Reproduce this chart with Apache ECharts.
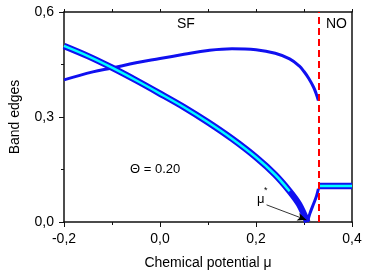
<!DOCTYPE html>
<html>
<head>
<meta charset="utf-8">
<script src="https://cdn.jsdelivr.net/npm/echarts@6/dist/echarts.min.js"></script>
<style>html,body{margin:0;padding:0;background:#fff}#c{width:368px;height:276px}</style>
</head>
<body>
<div id="c"></div>
<script>
// Data (chemical potential mu, band edge)
const bandMu   = [-0.20, -0.15, -0.10, -0.05, 0.00, 0.05, 0.10, 0.15, 0.20, 0.24, 0.27, 0.29, 0.307];
const bandVal  = [0.503, 0.474, 0.441, 0.405, 0.367, 0.328, 0.285, 0.238, 0.185, 0.135, 0.088, 0.050, 0.000];
const riseMu   = [0.307, 0.313, 0.320, 0.326, 0.330];
const riseVal  = [0.000, 0.027, 0.052, 0.074, 0.095];
const upperMu  = [-0.20, -0.14, -0.10, -0.05, 0.00, 0.05, 0.10, 0.15, 0.20, 0.24, 0.27, 0.29, 0.30, 0.31, 0.32, 0.325, 0.33];
const upperVal = [0.406, 0.429, 0.440, 0.455, 0.467, 0.479, 0.490, 0.495, 0.492, 0.482, 0.466, 0.446, 0.430, 0.410, 0.385, 0.368, 0.347];
const noMu     = [0.33, 0.40];
const noVal    = [0.103, 0.103];
const muCritical = 0.33;
const muStar = 0.307;
const xTicks = [-0.2, 0.0, 0.2, 0.4];
const yTicks = [0.0, 0.3, 0.6];

const zip = (a, b) => a.map((v, i) => [v, b[i]]);
const fmt = v => v.toFixed(1).replace('.', ',');
const BLUE = '#1010f0', CYAN = '#00ffff';
const font = 'Liberation Sans, Arial, sans-serif';
const AX = '#111';

const chart = echarts.init(document.getElementById('c'), null, {renderer: 'canvas'});
chart.setOption({
  animation: false,
  backgroundColor: '#fff',
  grid: {left: 61, top: 12, right: 16, bottom: 54},
  xAxis: [{
    type: 'value', min: xTicks[0], max: xTicks[xTicks.length - 1], interval: 0.2,
    name: 'Chemical potential \u03bc', nameLocation: 'middle', nameGap: 34,
    nameTextStyle: {fontFamily: font, fontSize: 14, color: '#000'},
    axisLine: {onZero: false, lineStyle: {color: AX, width: 1.5}},
    axisTick: {length: 5, lineStyle: {color: AX}},
    minorTick: {show: true, splitNumber: 2, length: 3, lineStyle: {color: AX}},
    axisLabel: {formatter: fmt, fontFamily: font, fontSize: 14, color: '#000', margin: 10},
    splitLine: {show: false}
  }, {
    type: 'value', position: 'top', min: -0.2, max: 0.4, interval: 0.1,
    axisLine: {show: true, onZero: false, lineStyle: {color: AX, width: 1.5}},
    axisTick: {show: true, length: 3, lineStyle: {color: AX}},
    axisLabel: {show: false}, splitLine: {show: false}
  }],
  yAxis: [{
    type: 'value', min: yTicks[0], max: yTicks[yTicks.length - 1], interval: 0.3,
    name: 'Band edges', nameLocation: 'middle', nameGap: 42,
    nameTextStyle: {fontFamily: font, fontSize: 14, color: '#000'},
    axisLine: {show: true, onZero: false, lineStyle: {color: AX, width: 1.5}},
    axisTick: {show: true, length: 5, lineStyle: {color: AX}},
    minorTick: {show: true, splitNumber: 2, length: 3, lineStyle: {color: AX}},
    axisLabel: {formatter: fmt, fontFamily: font, fontSize: 14, color: '#000', margin: 10},
    splitLine: {show: false}
  }, {
    type: 'value', position: 'right', min: 0, max: 0.6, interval: 0.15,
    axisLine: {show: true, onZero: false, lineStyle: {color: AX, width: 1.5}},
    axisTick: {show: false},
    axisLabel: {show: false}, splitLine: {show: false}
  }],
  series: [
    {type: 'line', data: zip(upperMu, upperVal), smooth: 0.4, symbol: 'none',
     lineStyle: {color: BLUE, width: 3}},
    {type: 'line', data: zip(bandMu, bandVal), smooth: 0.3, symbol: 'none',
     lineStyle: {color: BLUE, width: 6.5}},
    {type: 'line', data: zip(bandMu.slice(0, 11), bandVal.slice(0, 11)), smooth: 0.3, symbol: 'none',
     lineStyle: {color: CYAN, width: 2.5}},
    {type: 'line', data: zip(riseMu, riseVal), smooth: 0.3, symbol: 'none',
     lineStyle: {color: BLUE, width: 3}},
    {type: 'line', data: zip(noMu, noVal), symbol: 'none',
     lineStyle: {color: BLUE, width: 6.5}},
    {type: 'line', data: zip(noMu, noVal), symbol: 'none',
     lineStyle: {color: CYAN, width: 2.5}},
    {type: 'line', data: [], symbol: 'none',
     markLine: {silent: true, symbol: ['none', 'none'], label: {show: false},
       lineStyle: {color: '#ff0000', type: [7, 4], width: 2},
       data: [[{coord: [muCritical, 0]}, {coord: [muCritical, 0.6]}]]}},
    {type: 'line', data: [], symbol: 'none',
     markLine: {silent: true, symbol: ['none', 'arrow'], symbolSize: [6, 9], label: {show: false},
       lineStyle: {color: '#000', type: 'solid', width: 0.8},
       data: [[{coord: [0.222, 0.049]}, {coord: [muStar - 0.002, 0.006]}]]}}
  ],
  graphic: [
    {type: 'text', left: 177, top: 17, style: {text: 'SF', fontFamily: font, fontSize: 14, fill: '#000'}},
    {type: 'text', left: 326, top: 17, style: {text: 'NO', fontFamily: font, fontSize: 14, fill: '#000'}},
    {type: 'text', left: 130, top: 163, style: {text: '\u0398 = 0.20', fontFamily: font, fontSize: 13, fill: '#000'}},
    {type: 'text', left: 257, top: 193, style: {text: '\u03bc', fontFamily: font, fontSize: 13, fill: '#000'}},
    {type: 'text', left: 264, top: 186, style: {text: '*', fontFamily: font, fontSize: 9, fill: '#000'}}
  ]
});
</script>
</body>
</html>
